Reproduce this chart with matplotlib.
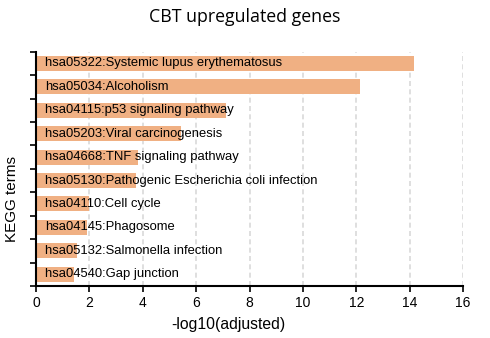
"""KEGG enrichment bar chart: CBT upregulated genes."""

from matplotlib import pyplot as plt

terms = [
    'hsa05322:Systemic lupus erythematosus',
    'hsa05034:Alcoholism',
    'hsa04115:p53 signaling pathway',
    'hsa05203:Viral carcinogenesis',
    'hsa04668:TNF signaling pathway',
    'hsa05130:Pathogenic Escherichia coli infection',
    'hsa04110:Cell cycle',
    'hsa04145:Phagosome',
    'hsa05132:Salmonella infection',
    'hsa04540:Gap junction',
]
neg_log10_adj = [14.15, 12.15, 7.1, 5.45, 3.83, 3.75, 1.99, 1.92, 1.52, 1.41]
x_ticks = [0, 2, 4, 6, 8, 10, 12, 14, 16]

plt.rcParams['font.family'] = ['Liberation Sans', 'DejaVu Sans']

fig = plt.figure(figsize=(4.9, 3.38), dpi=100)
ax = fig.add_axes([0.0735, 0.154, 0.8715, 0.693])

# top term first
ypos = list(range(len(terms)))[::-1]
ax.barh(ypos, neg_log10_adj, height=0.64, color='#f0b083', zorder=2)
for y, name in zip(ypos, terms):
    ax.text(0.35, y, name, va='center', ha='left', fontsize=9.4, zorder=3)

ax.set_xlim(0, 16)
ax.set_ylim(-0.5, len(terms) - 0.5)
ax.set_xticks(x_ticks)
ax.set_yticks([i - 0.5 for i in range(len(terms) + 1)])
ax.set_yticklabels([])
ax.tick_params(axis='both', direction='out', length=4, width=1.2, labelsize=10)

# dashed vertical grid
for xv in x_ticks[1:]:
    ax.axvline(xv, color='#d9d9d9', linestyle=(0, (3, 2)), linewidth=1.2, zorder=1)

for side in ('top', 'right'):
    ax.spines[side].set_visible(False)
for side in ('left', 'bottom'):
    ax.spines[side].set_linewidth(1.5)

ax.set_xlabel('-log10(adjusted)', fontsize=11.3)
ax.xaxis.set_label_coords(0.45, -0.132)
ax.set_ylabel('KEGG terms', fontsize=11)
ax.yaxis.set_label_coords(-0.04, 0.37)
fig.text(0.5, 0.95, 'CBT upregulated genes', ha='center', va='center',
         fontsize=12.8, family=['Open Sans', 'DejaVu Sans'])

fig.savefig('out.png', dpi=100)
